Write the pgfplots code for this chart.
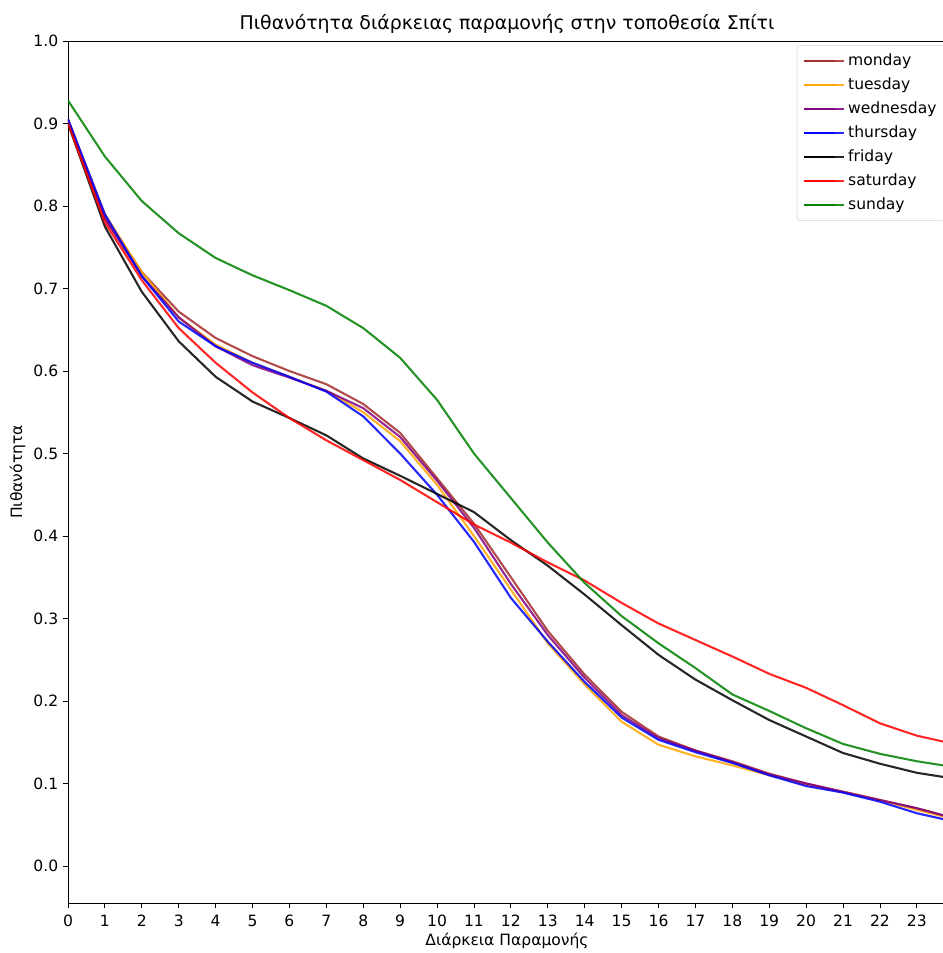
\documentclass[border=0pt]{standalone}
\usepackage{pgfplots}
\pgfplotsset{compat=1.18}
\usepackage{fontspec}
\setmainfont{DejaVu Sans}

\definecolor{cmon}{HTML}{A52A2A}
\definecolor{ctue}{HTML}{FFA500}
\definecolor{cwed}{HTML}{800080}
\definecolor{cthu}{HTML}{0000FF}
\definecolor{cfri}{HTML}{000000}
\definecolor{csat}{HTML}{FF0000}
\definecolor{csun}{HTML}{008000}

\begin{document}
\begin{tikzpicture}
\begin{axis}[
  at={(0,0)}, anchor=south west,
  scale only axis,
  width=632.16pt, height=620.64pt,
  xmin=0, xmax=23.79,
  ymin=-0.0448, ymax=1.0,
  xtick={0,1,...,23},
  ytick={0,0.1,...,1.0},
  yticklabel style={/pgf/number format/fixed, /pgf/number format/fixed zerofill, /pgf/number format/precision=1},
  /pgf/number format/assume math mode=true,
  tick align=outside,
  major tick length=3.5pt,
  xtick pos=bottom, ytick pos=left,
  tick style={black, line width=0.6pt},
  axis line style={black, line width=0.6pt},
  ticklabel style={font=\fontsize{11.2}{13}\selectfont},
  xticklabel style={yshift=-1.5pt},
  title={Πιθανότητα διάρκειας παραμονής στην τοποθεσία Σπίτι},
  title style={font=\fontsize{13.6}{16}\selectfont, yshift=-4pt},
  xlabel={Διάρκεια Παραμονής},
  ylabel={Πιθανότητα},
  label style={font=\fontsize{11.2}{13}\selectfont},
  xlabel style={yshift=2pt},
  ylabel style={yshift=-1pt},
  every axis plot/.append style={line width=1.5pt, opacity=0.85, line join=round},
  legend cell align=left,
  legend style={at={(0.999,0.995)}, anchor=north east, draw=gray!35, rounded corners=2pt,
    font=\fontsize{11.2}{13}\selectfont, row sep=3.3pt, inner xsep=4pt, inner ysep=4pt},
  legend image code/.code={\draw[#1] (0cm,0cm) -- (0.8cm,0cm); \path (0cm,0cm) -- (1.03cm,0cm);},
]
% monday
\addplot[cmon] coordinates {
 (0,0.905) (1,0.785) (2,0.720) (3,0.672) (4,0.640) (5,0.618) (6,0.600) (7,0.584)
 (8,0.560) (9,0.525) (10,0.470) (11,0.415) (12,0.350) (13,0.285) (14,0.232) (15,0.187)
 (16,0.157) (17,0.140) (18,0.127) (19,0.112) (20,0.100) (21,0.090) (22,0.080) (23,0.070) (24,0.058)};
\addlegendentry{monday}
% tuesday
\addplot[ctue] coordinates {
 (0,0.905) (1,0.790) (2,0.720) (3,0.665) (4,0.632) (5,0.610) (6,0.593) (7,0.576)
 (8,0.550) (9,0.515) (10,0.462) (11,0.400) (12,0.335) (13,0.270) (14,0.220) (15,0.175)
 (16,0.147) (17,0.133) (18,0.122) (19,0.110) (20,0.098) (21,0.090) (22,0.080) (23,0.068) (24,0.057)};
\addlegendentry{tuesday}
% wednesday
\addplot[cwed] coordinates {
 (0,0.905) (1,0.785) (2,0.715) (3,0.665) (4,0.630) (5,0.607) (6,0.592) (7,0.576)
 (8,0.555) (9,0.520) (10,0.467) (11,0.410) (12,0.342) (13,0.280) (14,0.228) (15,0.183)
 (16,0.155) (17,0.140) (18,0.126) (19,0.111) (20,0.100) (21,0.090) (22,0.080) (23,0.070) (24,0.058)};
\addlegendentry{wednesday}
% thursday
\addplot[cthu] coordinates {
 (0,0.905) (1,0.790) (2,0.715) (3,0.660) (4,0.630) (5,0.610) (6,0.593) (7,0.575)
 (8,0.545) (9,0.500) (10,0.450) (11,0.393) (12,0.325) (13,0.272) (14,0.223) (15,0.180)
 (16,0.153) (17,0.138) (18,0.125) (19,0.110) (20,0.097) (21,0.089) (22,0.078) (23,0.064) (24,0.054)};
\addlegendentry{thursday}
% friday
\addplot[cfri] coordinates {
 (0,0.900) (1,0.775) (2,0.696) (3,0.636) (4,0.593) (5,0.563) (6,0.543) (7,0.522)
 (8,0.494) (9,0.473) (10,0.451) (11,0.429) (12,0.395) (13,0.364) (14,0.329) (15,0.292)
 (16,0.256) (17,0.226) (18,0.201) (19,0.177) (20,0.157) (21,0.137) (22,0.124) (23,0.113) (24,0.106)};
\addlegendentry{friday}
% saturday
\addplot[csat] coordinates {
 (0,0.900) (1,0.780) (2,0.710) (3,0.652) (4,0.610) (5,0.574) (6,0.543) (7,0.516)
 (8,0.492) (9,0.468) (10,0.441) (11,0.414) (12,0.392) (13,0.368) (14,0.346) (15,0.319)
 (16,0.294) (17,0.274) (18,0.254) (19,0.233) (20,0.216) (21,0.195) (22,0.173) (23,0.158) (24,0.148)};
\addlegendentry{saturday}
% sunday
\addplot[csun] coordinates {
 (0,0.928) (1,0.860) (2,0.806) (3,0.767) (4,0.737) (5,0.716) (6,0.698) (7,0.679)
 (8,0.652) (9,0.616) (10,0.565) (11,0.500) (12,0.446) (13,0.392) (14,0.343) (15,0.303)
 (16,0.270) (17,0.240) (18,0.208) (19,0.188) (20,0.167) (21,0.148) (22,0.136) (23,0.127) (24,0.120)};
\addlegendentry{sunday}
\end{axis}
\pgfresetboundingbox
\path[use as bounding box] (-48.96pt,-36pt) rectangle (629.28pt,650.16pt);
\end{tikzpicture}
\end{document}
